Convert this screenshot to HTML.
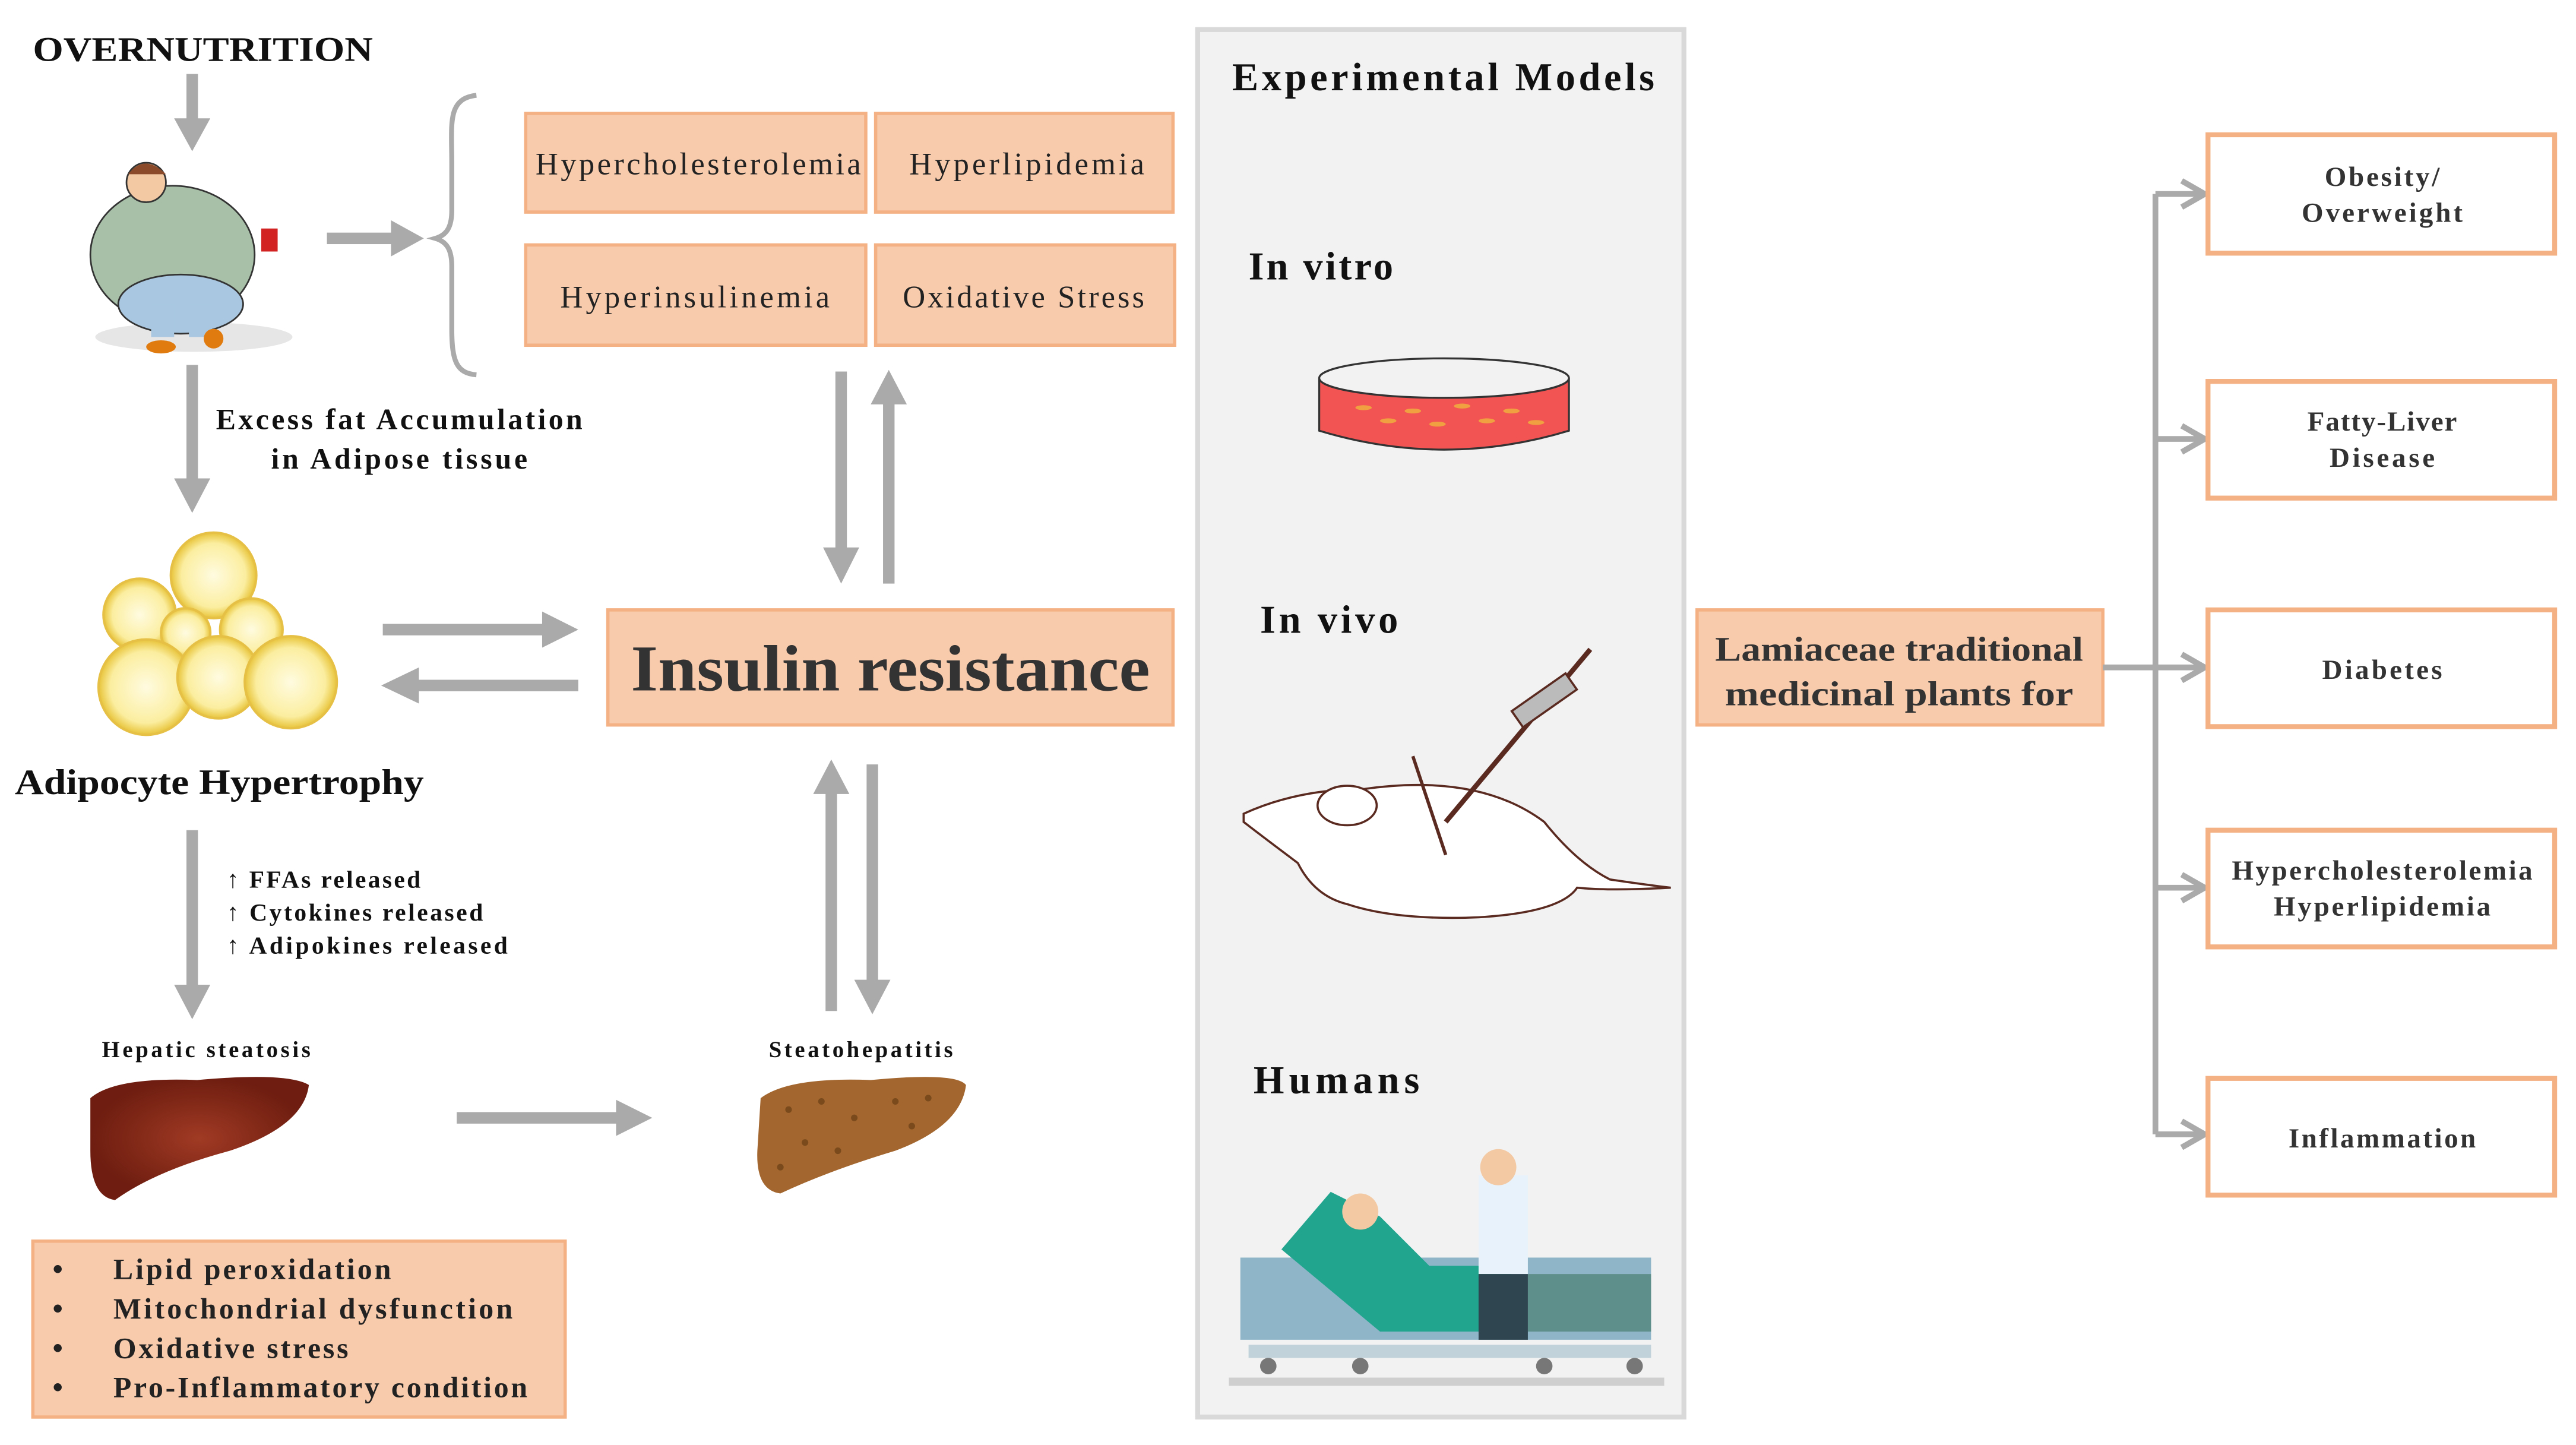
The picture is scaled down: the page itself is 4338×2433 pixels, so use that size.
<!DOCTYPE html>
<html><head><meta charset="utf-8"><style>
html,body{margin:0;padding:0;background:#fff;}
svg{display:block;}
text{font-family:"Liberation Serif",serif;}
</style></head><body>
<svg width="4338" height="2433" viewBox="0 0 1568 879" preserveAspectRatio="none" xmlns="http://www.w3.org/2000/svg">
<rect width="1568" height="879" fill="#fff"/>
<g fill="#aaaaaa" stroke="none">
<rect x="113.5" y="45" width="7" height="30"/><polygon points="106,72 128,72 117,92"/>
<rect x="113.5" y="222" width="7" height="72"/><polygon points="106,291 128,291 117,312"/>
<rect x="113.5" y="505" width="7" height="97"/><polygon points="106,599 128,599 117,620"/>
<rect x="508.5" y="226" width="7" height="110"/><polygon points="501,333 523,333 512,355"/>
<rect x="537.5" y="243" width="7" height="112"/><polygon points="530,246 552,246 541,225"/>
<rect x="502.5" y="480" width="7" height="135"/><polygon points="495,483 517,483 506,462"/>
<rect x="527.5" y="465" width="7" height="134"/><polygon points="520,596 542,596 531,617"/>
<rect x="199" y="141.5" width="42" height="7"/><polygon points="238,134 238,156 258,145"/>
<rect x="233" y="379.5" width="100" height="7"/><polygon points="330,372 330,394 352,383"/>
<rect x="252" y="413.5" width="100" height="7"/><polygon points="255,406 255,428 232,417"/>
<rect x="278" y="676.5" width="100" height="7"/><polygon points="375,669 375,691 397,680"/>
</g>
<path d="M290,58 C272,60 275,75 275,100 L275,128 C275,138 272,143 265,145 C272,147 275,152 275,162 L275,200 C275,220 278,227 290,228" fill="none" stroke="#aaa" stroke-width="3"/>
<text x="20" y="37" font-size="21" font-weight="bold" fill="#111" textLength="207" lengthAdjust="spacingAndGlyphs">OVERNUTRITION</text>
<g>
<ellipse cx="118" cy="205" rx="60" ry="9" fill="#e6e6e6"/>
<ellipse cx="105" cy="155" rx="50" ry="42" fill="#a8bfa8" stroke="#333" stroke-width="1"/>
<ellipse cx="110" cy="185" rx="38" ry="18" fill="#a9c7e0" stroke="#333"/>
<rect x="92" y="185" width="14" height="20" fill="#a9c7e0"/><rect x="115" y="185" width="14" height="20" fill="#a9c7e0"/>
<ellipse cx="98" cy="211" rx="9" ry="4" fill="#e07b10"/><ellipse cx="130" cy="206" rx="6" ry="6" fill="#e07b10"/>
<circle cx="89" cy="111" r="12" fill="#f3c9a3" stroke="#333"/>
<path d="M78,106 Q88,93 101,106" fill="#8b4a2a"/>
<rect x="159" y="139" width="10" height="14" fill="#d32222"/>
</g>
<g fill="#f8cbad" stroke="#f4b183" stroke-width="2">
<rect x="320" y="69" width="207" height="60"/><rect x="533" y="69" width="181" height="60"/>
<rect x="320" y="149" width="207" height="61"/><rect x="533" y="149" width="182" height="61"/>
<rect x="370" y="371" width="344" height="70"/>
<rect x="20" y="755" width="324" height="107"/>
<rect x="1033" y="371" width="247" height="70"/>
</g>
<g font-size="19" fill="#222" text-anchor="middle" lengthAdjust="spacingAndGlyphs">
<text x="425" y="106" textLength="198">Hypercholesterolemia</text>
<text x="625" y="106" textLength="143">Hyperlipidemia</text>
<text x="423" y="187" textLength="164">Hyperinsulinemia</text>
<text x="623" y="187" textLength="147">Oxidative Stress</text>
</g>
<text x="542" y="420" font-size="40" fill="#333" text-anchor="middle" font-weight="bold" textLength="316" lengthAdjust="spacingAndGlyphs">Insulin resistance</text>
<g font-size="18" fill="#111" font-weight="bold" text-anchor="middle" lengthAdjust="spacingAndGlyphs">
<text x="243" y="261" textLength="223">Excess fat  Accumulation</text>
<text x="243" y="285" textLength="156">in Adipose tissue</text>
</g>
<defs><radialGradient id="ad"><stop offset="0" stop-color="#fffbe0"/><stop offset="0.75" stop-color="#fbeea0"/><stop offset="1" stop-color="#e8c43a"/></radialGradient>
<radialGradient id="l1"><stop offset="0" stop-color="#a03a24"/><stop offset="1" stop-color="#6e1d10"/></radialGradient></defs>
<g fill="url(#ad)" stroke="#e5c045" stroke-width="1.5">
<circle cx="130" cy="350" r="26"/><circle cx="85" cy="374" r="22"/><circle cx="153" cy="383" r="19"/><circle cx="113" cy="385" r="15"/>
<circle cx="89" cy="418" r="29"/><circle cx="133" cy="412" r="25"/><circle cx="177" cy="415" r="28"/>
</g>
<text x="9" y="483" font-size="22" font-weight="bold" fill="#111" textLength="249" lengthAdjust="spacingAndGlyphs">Adipocyte Hypertrophy</text>
<g font-size="15" fill="#111" font-weight="bold" lengthAdjust="spacingAndGlyphs">
<text x="138" y="540" textLength="118">↑ FFAs released</text>
<text x="138" y="560" textLength="156">↑ Cytokines released</text>
<text x="138" y="580" textLength="171">↑ Adipokines released</text>
<text x="62" y="643" font-size="14" textLength="127">Hepatic steatosis</text>
<text x="468" y="643" font-size="14" textLength="112">Steatohepatitis</text>
</g>
<path d="M55,668 Q70,655 120,657 Q175,652 188,660 Q185,685 140,700 Q95,712 70,730 Q55,728 55,700 Z" fill="url(#l1)"/>
<path d="M463,668 Q480,655 530,657 Q582,652 588,660 Q585,685 545,700 Q505,712 475,726 Q460,724 461,700 Z" fill="#a2662e"/>
<g fill="#7a4a1c"><circle cx="480" cy="675" r="2"/><circle cx="500" cy="670" r="2"/><circle cx="520" cy="680" r="2"/><circle cx="545" cy="670" r="2"/><circle cx="565" cy="668" r="2"/><circle cx="490" cy="695" r="2"/><circle cx="510" cy="700" r="2"/><circle cx="475" cy="710" r="2"/><circle cx="555" cy="685" r="2"/></g>
<g font-size="18" fill="#222" font-weight="bold" lengthAdjust="spacingAndGlyphs">
<text x="32" y="778">•</text><text x="69" y="778" textLength="169">Lipid peroxidation</text>
<text x="32" y="802">•</text><text x="69" y="802" textLength="243">Mitochondrial dysfunction</text>
<text x="32" y="826">•</text><text x="69" y="826" textLength="143">Oxidative stress</text>
<text x="32" y="850">•</text><text x="69" y="850" textLength="252">Pro-Inflammatory condition</text>
</g>
<rect x="729" y="18" width="296" height="844" fill="#f2f2f2" stroke="#d9d9d9" stroke-width="3"/>
<g font-size="24" font-weight="bold" fill="#111" lengthAdjust="spacingAndGlyphs">
<text x="750" y="55" textLength="257">Experimental Models</text>
<text x="760" y="170" textLength="88">In vitro</text>
<text x="767" y="385" textLength="84">In vivo</text>
<text x="763" y="665" textLength="101">Humans</text>
</g>
<path d="M803,230 L803,262 Q879,285 955,262 L955,230" fill="#f25353" stroke="#333" stroke-width="1.2"/>
<ellipse cx="879" cy="230" rx="76" ry="12" fill="#f2f2f2" stroke="#333" stroke-width="1.2"/>
<g fill="#f0a040"><ellipse cx="830" cy="248" rx="5" ry="1.5"/><ellipse cx="860" cy="250" rx="5" ry="1.5"/><ellipse cx="890" cy="247" rx="5" ry="1.5"/><ellipse cx="920" cy="250" rx="5" ry="1.5"/><ellipse cx="845" cy="256" rx="5" ry="1.5"/><ellipse cx="875" cy="258" rx="5" ry="1.5"/><ellipse cx="905" cy="256" rx="5" ry="1.5"/><ellipse cx="935" cy="257" rx="5" ry="1.5"/></g>
<g fill="#fff" stroke="#5a2a20" stroke-width="1.3">
<path d="M757,495 Q790,480 830,480 Q900,470 940,500 Q960,525 980,535 Q1000,538 1017,540 Q980,542 960,540 Q950,555 900,558 Q850,560 820,550 Q800,545 790,525 Q770,510 757,500 Z"/>
<ellipse cx="820" cy="490" rx="18" ry="12"/>
<path d="M860,460 L880,520" stroke-width="2"/>
<path d="M968,395 L880,500" stroke-width="3"/>
<rect x="920" y="420" width="40" height="12" transform="rotate(-35 940 426)" fill="#bbb"/>
</g>
<rect x="755" y="765" width="250" height="50" fill="#8fb6c8"/>
<rect x="930" y="775" width="75" height="35" fill="#5f8f8a"/>
<path d="M780,760 L810,725 L840,740 L870,770 L920,770 L920,810 L840,810 Z" fill="#22a58f"/>
<circle cx="828" cy="737" r="11" fill="#f3c9a3"/>
<rect x="900" y="715" width="30" height="60" fill="#e8f2fa"/>
<circle cx="912" cy="710" r="11" fill="#f3c9a3"/>
<rect x="900" y="775" width="30" height="40" fill="#2f4550"/>
<rect x="760" y="818" width="245" height="8" fill="#c2d2da"/>
<rect x="748" y="838" width="265" height="5" fill="#cfcfcf"/>
<g fill="#777"><circle cx="772" cy="831" r="5"/><circle cx="828" cy="831" r="5"/><circle cx="940" cy="831" r="5"/><circle cx="995" cy="831" r="5"/></g>
<text x="1156" y="402" font-size="21" font-weight="bold" fill="#333" text-anchor="middle" textLength="224" lengthAdjust="spacingAndGlyphs">Lamiaceae traditional</text>
<text x="1156" y="429" font-size="21" font-weight="bold" fill="#333" text-anchor="middle" textLength="212" lengthAdjust="spacingAndGlyphs">medicinal plants for</text>
<g stroke="#aaa" stroke-width="3.5" fill="none">
<path d="M1280,406 L1312,406"/><path d="M1312,118 L1312,690"/>
<path d="M1312,118 L1342,118 M1312,267 L1342,267 M1312,406 L1342,406 M1312,540 L1342,540 M1312,690 L1342,690"/>
<path d="M1328,110 L1342,118 L1328,126 M1328,259 L1342,267 L1328,275 M1328,398 L1342,406 L1328,414 M1328,532 L1342,540 L1328,548 M1328,682 L1342,690 L1328,698"/>
</g>
<g fill="#fff" stroke="#f4b183" stroke-width="3">
<rect x="1344" y="82" width="211" height="72"/><rect x="1344" y="232" width="211" height="71"/>
<rect x="1344" y="371" width="211" height="71"/><rect x="1344" y="505" width="211" height="71"/>
<rect x="1344" y="656" width="211" height="71"/>
</g>
<g font-size="17" font-weight="bold" fill="#333" text-anchor="middle" lengthAdjust="spacingAndGlyphs">
<text x="1450" y="113" textLength="70">Obesity/</text><text x="1450" y="135" textLength="98">Overweight</text>
<text x="1450" y="262" textLength="91">Fatty-Liver</text><text x="1450" y="284" textLength="64">Disease</text>
<text x="1450" y="413" textLength="73">Diabetes</text>
<text x="1450" y="535" textLength="183">Hypercholesterolemia</text><text x="1450" y="557" textLength="132">Hyperlipidemia</text>
<text x="1450" y="698" textLength="114">Inflammation</text>
</g>
</svg>
</body></html>
